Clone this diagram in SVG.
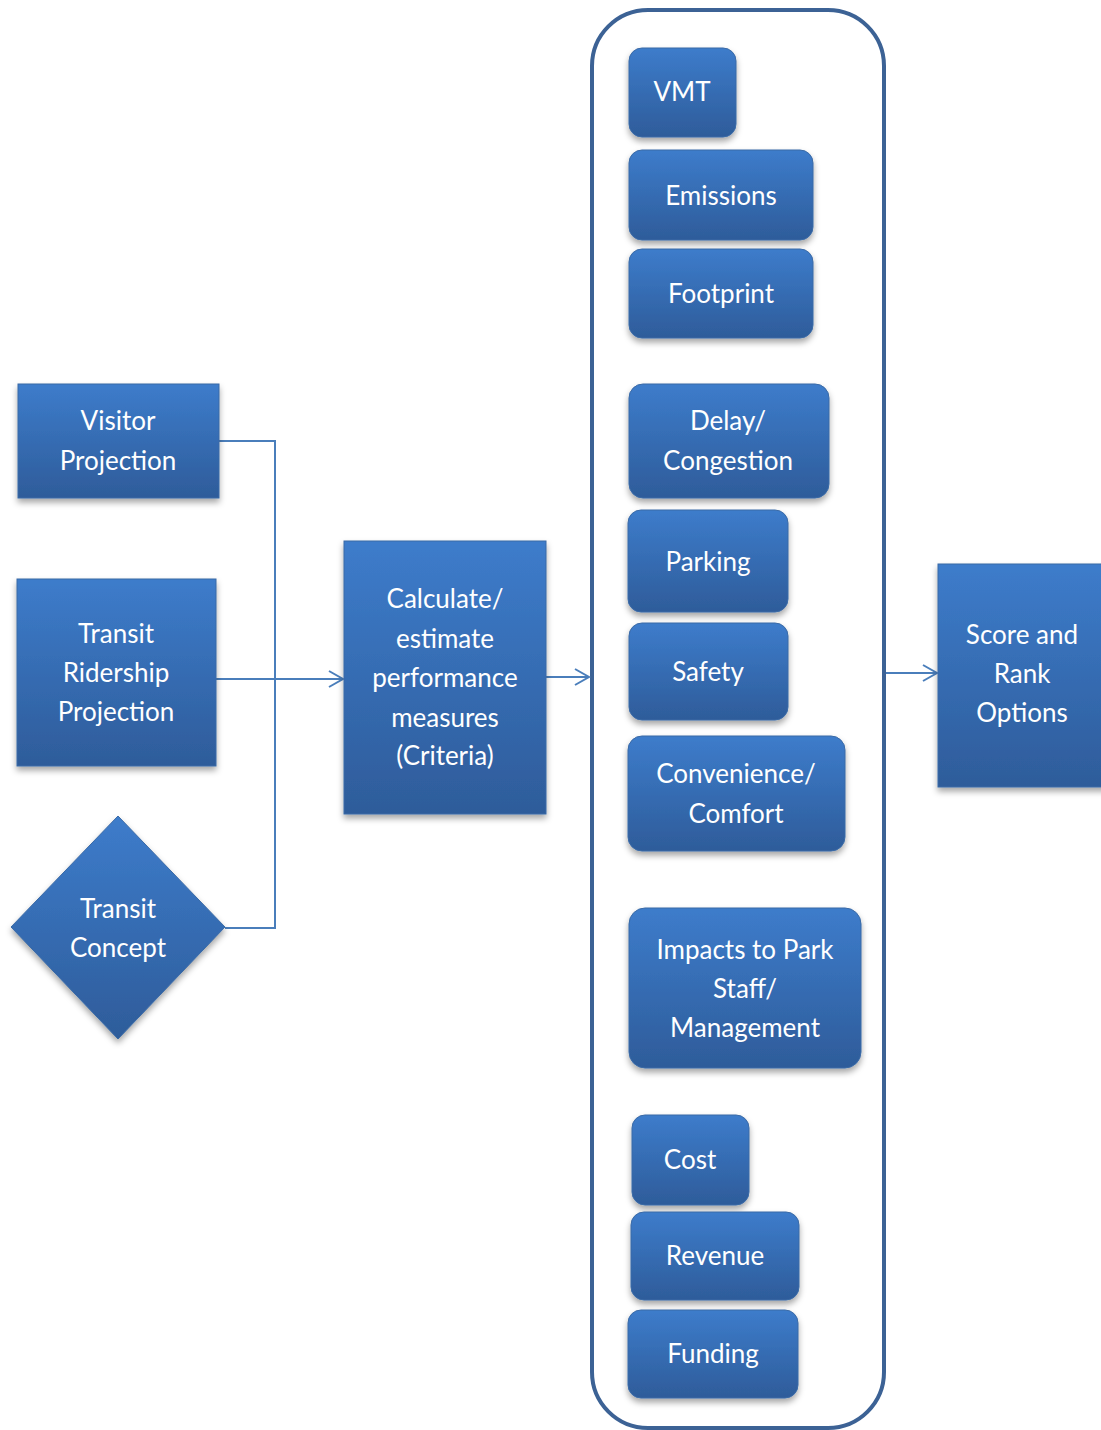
<svg xmlns="http://www.w3.org/2000/svg" width="1101" height="1430" viewBox="0 0 1101 1430">
<style>
.n{fill:url(#g);stroke:#3a6aa6;stroke-width:1;filter:url(#sh)}
.t{font-family:Lato,"Open Sans",sans-serif;font-size:26px;fill:#fff;text-anchor:middle;dominant-baseline:central}
.c{fill:none;stroke:#4a7ebb;stroke-width:2}
</style>
<defs>
<linearGradient id="g" x1="0" y1="0" x2="0" y2="1">
<stop offset="0" stop-color="#3d7ccb"/>
<stop offset="1" stop-color="#2e5c9a"/>
</linearGradient>
<filter id="sh" x="-20%" y="-20%" width="140%" height="150%">
<feDropShadow dx="0" dy="4" stdDeviation="3" flood-color="#000" flood-opacity="0.35"/>
</filter>
<marker id="ar" markerWidth="20" markerHeight="20" refX="17" refY="9" orient="auto" markerUnits="userSpaceOnUse">
<path d="M3,1 L17,9 L3,17" fill="none" stroke="#4a7ebb" stroke-width="2"/>
</marker>
</defs>
<g id="container"><rect x="592" y="10" width="292" height="1418" rx="56" ry="56" fill="none" stroke="#3c6295" stroke-width="4"/></g>
<g id="connectors">
<path class="c" d="M219,441 H275 V928 H225"/>
<path class="c" d="M216,679 H343" marker-end="url(#ar)"/>
<path class="c" d="M546,677 H589" marker-end="url(#ar)"/>
<path class="c" d="M886,673 H937" marker-end="url(#ar)"/>
</g>
<g id="visitor"><rect class="n" x="18" y="384" width="201" height="114"/><text class="t" x="118" y="420">Visitor</text><text class="t" x="118" y="460">Projection</text></g>
<g id="ridership"><rect class="n" x="17" y="579" width="199" height="187"/><text class="t" x="116" y="633">Transit</text><text class="t" x="116" y="672">Ridership</text><text class="t" x="116" y="711">Projection</text></g>
<g id="concept"><polygon class="n" points="118,816 225,927 118,1039 11,927"/><text class="t" x="118" y="908">Transit</text><text class="t" x="118" y="947">Concept</text></g>
<g id="calculate"><rect class="n" x="344" y="541" width="202" height="273"/><text class="t" x="445" y="598">Calculate/</text><text class="t" x="445" y="638">estimate</text><text class="t" x="445" y="677">performance</text><text class="t" x="445" y="717">measures</text><text class="t" x="445" y="755">(Criteria)</text></g>
<g id="vmt"><rect class="n" x="629" y="48" width="107" height="89" rx="13"/><text class="t" x="682" y="91">VMT</text></g>
<g id="emissions"><rect class="n" x="629" y="150" width="184" height="90" rx="13"/><text class="t" x="721" y="195">Emissions</text></g>
<g id="footprint"><rect class="n" x="629" y="249" width="184" height="89" rx="13"/><text class="t" x="721" y="293">Footprint</text></g>
<g id="delay"><rect class="n" x="629" y="384" width="200" height="114" rx="14"/><text class="t" x="728" y="420">Delay/</text><text class="t" x="728" y="460">Congestion</text></g>
<g id="parking"><rect class="n" x="628" y="510" width="160" height="102" rx="13"/><text class="t" x="708" y="561">Parking</text></g>
<g id="safety"><rect class="n" x="629" y="623" width="159" height="97" rx="13"/><text class="t" x="708" y="671">Safety</text></g>
<g id="convenience"><rect class="n" x="628" y="736" width="217" height="115" rx="14"/><text class="t" x="736" y="773">Convenience/</text><text class="t" x="736" y="813">Comfort</text></g>
<g id="impacts"><rect class="n" x="629" y="908" width="232" height="160" rx="16"/><text class="t" x="745" y="949">Impacts to Park</text><text class="t" x="745" y="988">Staff/</text><text class="t" x="745" y="1027">Management</text></g>
<g id="cost"><rect class="n" x="632" y="1115" width="117" height="90" rx="13"/><text class="t" x="690" y="1159">Cost</text></g>
<g id="revenue"><rect class="n" x="631" y="1212" width="168" height="88" rx="13"/><text class="t" x="715" y="1255">Revenue</text></g>
<g id="funding"><rect class="n" x="628" y="1310" width="170" height="88" rx="13"/><text class="t" x="713" y="1353">Funding</text></g>
<g id="score"><rect class="n" x="938" y="564" width="175" height="223"/><text class="t" x="1022" y="634">Score and</text><text class="t" x="1022" y="673">Rank</text><text class="t" x="1022" y="712">Options</text></g>
</svg>
